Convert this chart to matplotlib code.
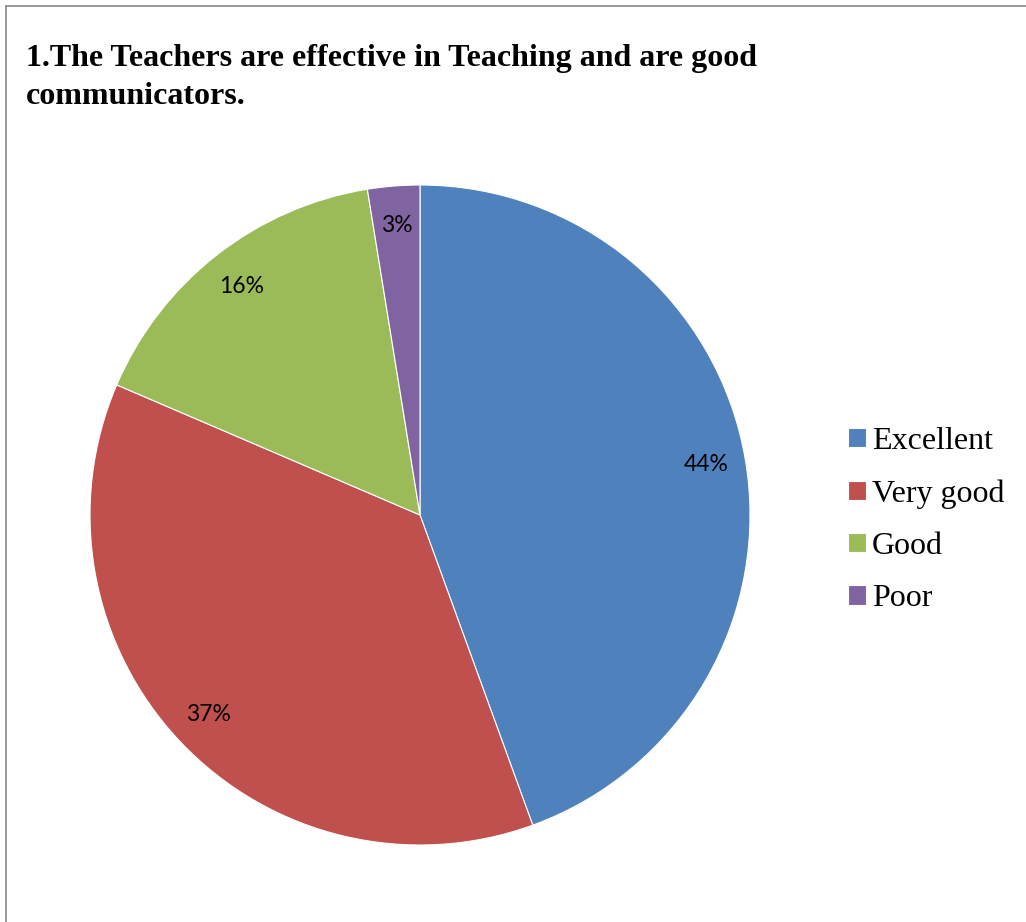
import matplotlib
matplotlib.use("Agg")
import matplotlib.pyplot as plt
from matplotlib.lines import Line2D

# data
categories = ["Excellent", "Very good", "Good", "Poor"]
shares = [44.45, 37.0, 16.0, 2.55]
colors = ["#4F81BD", "#C0504D", "#9BBB59", "#8064A2"]
title = "1.The Teachers are effective in Teaching and are good\ncommunicators."

W, H = 1026, 922
fig = plt.figure(figsize=(W / 100, H / 100), dpi=100)

# pie area: centre (420, 515), radius 330 px
cx, cy, r = 420, 515, 330
ax = fig.add_axes([(cx - r) / W, 1 - (cy + r) / H, 2 * r / W, 2 * r / H])
wedges, _, autotexts = ax.pie(
    shares, colors=colors, startangle=90, counterclock=False,
    autopct="%.0f%%", pctdistance=0.88,
    wedgeprops=dict(edgecolor="white", linewidth=0.8),
    textprops=dict(fontsize=16.5, family="Lato", color="black"),
)
ax.set_aspect("equal")
ax.set_xlim(-1, 1)
ax.set_ylim(-1, 1)

fig.text(26 / W, 1 - 44 / H, title, ha="left", va="top",
         family="Liberation Serif", fontweight="bold", fontsize=23,
         linespacing=1.42)

fig.legend(wedges, categories, loc="center left",
           bbox_to_anchor=(848 / W, 1 - 520 / H), frameon=False,
           prop=dict(family="Liberation Serif", size=23),
           handlelength=0.55, handleheight=0.55, handletextpad=0.2,
           labelspacing=0.73, borderpad=0, borderaxespad=0)

# chart border (top and left edges visible)
fig.add_artist(Line2D([6 / W, 1], [1 - 6 / H, 1 - 6 / H], color="#888888", lw=1.2))
fig.add_artist(Line2D([6 / W, 6 / W], [0, 1 - 6 / H], color="#888888", lw=1.2))

fig.savefig("out.png", dpi=100)
